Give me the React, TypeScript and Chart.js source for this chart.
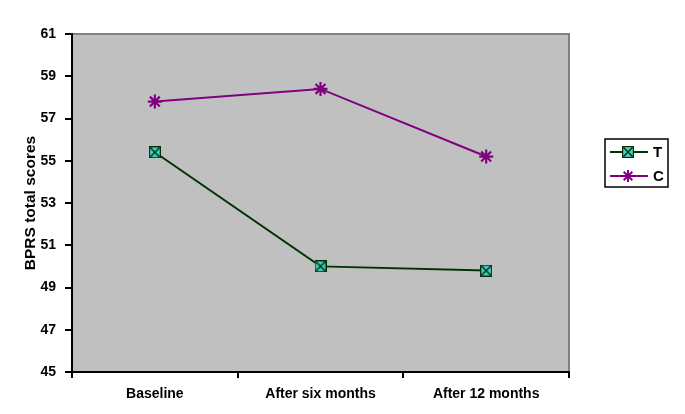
import React, { useEffect, useRef } from "react";
import { Chart, registerables } from "chart.js";

Chart.register(...registerables);

const categories = ["Baseline", "After six months", "After 12 months"];
const seriesT = [55.4, 50.0, 49.8];
const seriesC = [57.8, 58.4, 55.2];
const yTicks = [45, 47, 49, 51, 53, 55, 57, 59, 61];

const T_COLOR = "#003300";
const C_COLOR = "#800080";
const T_FILL = "#3CDCCB";

function makeTMarker(): HTMLCanvasElement {
  const c = document.createElement("canvas");
  c.width = 12;
  c.height = 12;
  const g = c.getContext("2d")!;
  g.fillStyle = T_FILL;
  g.fillRect(0, 0, 12, 12);
  g.strokeStyle = "#0a2a0a";
  g.lineWidth = 1.2;
  g.strokeRect(0.6, 0.6, 10.8, 10.8);
  g.beginPath();
  g.moveTo(1.5, 1.5);
  g.lineTo(10.5, 10.5);
  g.moveTo(10.5, 1.5);
  g.lineTo(1.5, 10.5);
  g.lineWidth = 1.5;
  g.stroke();
  return c;
}

export default function App() {
  const ref = useRef<HTMLCanvasElement | null>(null);
  useEffect(() => {
    if (!ref.current) return;
    const tMarker = makeTMarker();

    const bgPlugin = {
      id: "bg",
      beforeDraw(chart: any) {
        const { ctx, chartArea: a } = chart;
        ctx.save();
        ctx.fillStyle = "#ffffff";
        ctx.fillRect(0, 0, chart.width, chart.height);
        ctx.fillStyle = "#C0C0C0";
        ctx.fillRect(a.left, a.top, a.right - a.left, a.bottom - a.top);
        ctx.strokeStyle = "#808080";
        ctx.lineWidth = 2;
        ctx.beginPath();
        ctx.moveTo(a.left, a.top);
        ctx.lineTo(a.right, a.top);
        ctx.lineTo(a.right, a.bottom);
        ctx.stroke();
        ctx.restore();
      },
    };

    const legendPlugin = {
      id: "customLegend",
      afterDraw(chart: any) {
        const { ctx } = chart;
        const x0 = 605, y0 = 139, w = 63, h = 48;
        ctx.save();
        ctx.fillStyle = "#ffffff";
        ctx.fillRect(x0, y0, w, h);
        ctx.strokeStyle = "#000";
        ctx.lineWidth = 1.5;
        ctx.strokeRect(x0, y0, w, h);
        const rows = [
          { label: chart.data.datasets[0].label, color: T_COLOR, y: 152, kind: "T" },
          { label: chart.data.datasets[1].label, color: C_COLOR, y: 176, kind: "C" },
        ];
        rows.forEach((r) => {
          ctx.strokeStyle = r.color;
          ctx.lineWidth = 2;
          ctx.beginPath();
          ctx.moveTo(610, r.y);
          ctx.lineTo(648, r.y);
          ctx.stroke();
          if (r.kind === "T") {
            ctx.drawImage(tMarker, 622, r.y - 6);
          } else {
            ctx.lineWidth = 2;
            ctx.beginPath();
            const cx = 628, s = 6;
            ctx.moveTo(cx - s, r.y); ctx.lineTo(cx + s, r.y);
            ctx.moveTo(cx, r.y - s); ctx.lineTo(cx, r.y + s);
            const d = s * 0.72;
            ctx.moveTo(cx - d, r.y - d); ctx.lineTo(cx + d, r.y + d);
            ctx.moveTo(cx + d, r.y - d); ctx.lineTo(cx - d, r.y + d);
            ctx.stroke();
          }
          ctx.fillStyle = "#000";
          ctx.font = "bold 15px 'Liberation Sans', Arial, sans-serif";
          ctx.textBaseline = "middle";
          ctx.textAlign = "left";
          ctx.fillText(r.label, 653, r.y + 1);
        });
        ctx.restore();
      },
    };

    const chart = new Chart(ref.current, {
      type: "line",
      data: {
        labels: categories,
        datasets: [
          {
            label: "T",
            data: seriesT,
            borderColor: T_COLOR,
            borderWidth: 2,
            pointStyle: tMarker as any,
            pointRadius: 6,
            tension: 0,
          },
          {
            label: "C",
            data: seriesC,
            borderColor: C_COLOR,
            backgroundColor: C_COLOR,
            borderWidth: 2,
            pointStyle: "star",
            pointRadius: 7,
            pointBorderWidth: 2.2,
            pointBorderColor: C_COLOR,
            tension: 0,
          },
        ],
      },
      options: {
        animation: false,
        responsive: false,
        layout: { padding: { left: 0, right: 116, top: 34, bottom: 0 } },
        plugins: { legend: { display: false }, tooltip: { enabled: false } },
        scales: {
          x: {
            offset: true,
            grid: { offset: true, drawOnChartArea: false, drawTicks: true, tickLength: 6, color: "#000", lineWidth: 2 },
            border: { color: "#000", width: 2 },
            ticks: {
              color: "#000",
              padding: 8,
              maxRotation: 0,
              font: { family: "'Liberation Sans', Arial, sans-serif", size: 14, weight: "bold" },
            },
            afterFit: (s: any) => { s.height = 42; },
          },
          y: {
            min: 45,
            max: 61,
            afterBuildTicks: (s: any) => { s.ticks = yTicks.map((v) => ({ value: v })); },
            grid: { drawOnChartArea: false, drawTicks: true, tickLength: 7, color: "#000", lineWidth: 2 },
            border: { color: "#000", width: 2 },
            ticks: {
              color: "#000",
              padding: 9,
              font: { family: "'Liberation Sans', Arial, sans-serif", size: 14, weight: "bold" },
            },
            title: {
              display: true,
              text: "BPRS total scores",
              color: "#000",
              padding: { top: 21, bottom: 0 },
              font: { family: "'Liberation Sans', Arial, sans-serif", size: 15.5, weight: "bold" },
            },
            afterFit: (s: any) => { s.width = 72; },
          },
        },
      },
      plugins: [bgPlugin, legendPlugin],
    });
    return () => chart.destroy();
  }, []);
  return (
    <div style={{ position: "fixed", left: 0, top: 0, width: 685, height: 414, background: "#fff" }}>
      <canvas ref={ref} width={685} height={414} style={{ display: "block" }} />
    </div>
  );
}
